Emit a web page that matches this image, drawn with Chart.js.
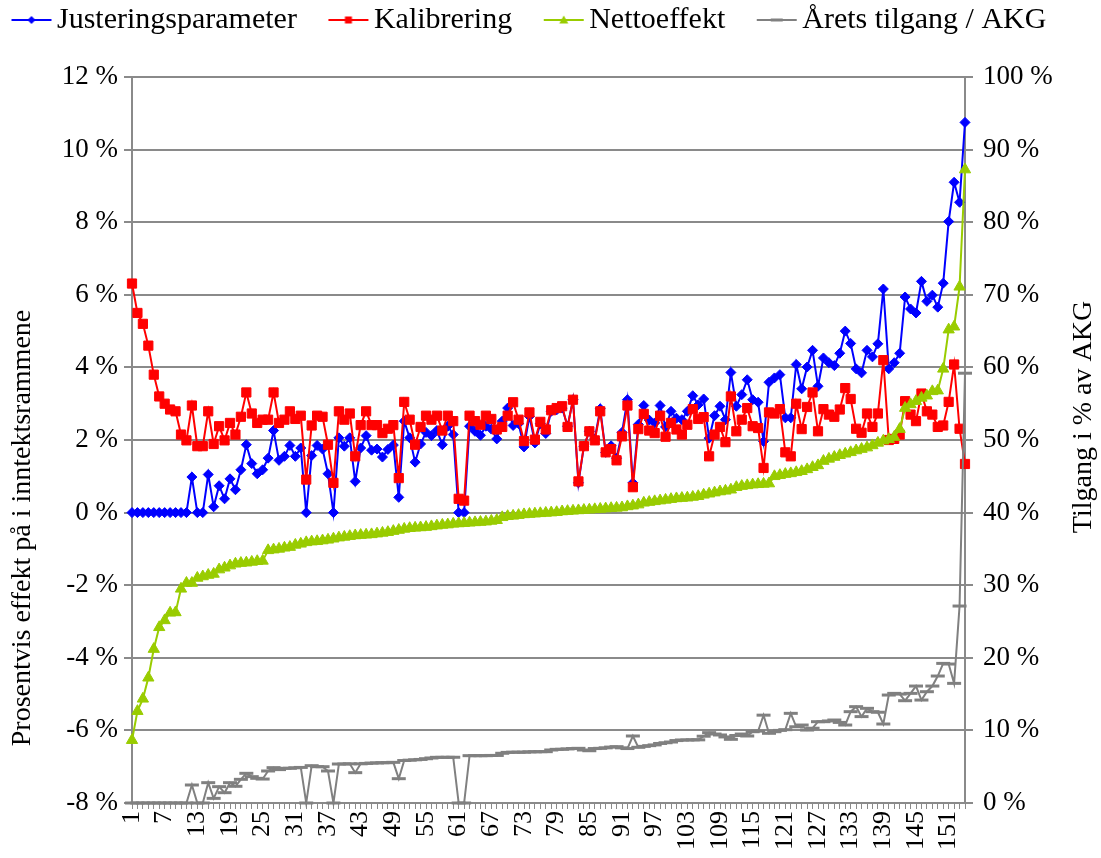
<!DOCTYPE html>
<html>
<head>
<meta charset="utf-8">
<script src="https://cdn.jsdelivr.net/npm/chart.js@4.4.0/dist/chart.umd.min.js"></script>
<style>
  html, body { margin: 0; padding: 0; background: #fff; }
  canvas { display: block; }
</style>
</head>
<body>
<canvas id="chart" width="1101" height="858"></canvas>
<script>
// ---- data ----
const justering = [
  0, 0, 0, 0, 0, 0, 0, 0, 0, 0,
  0, 0.98, 0, 0, 1.05, 0.16, 0.74, 0.38, 0.93, 0.63,
  1.18, 1.87, 1.35, 1.07, 1.18, 1.50, 2.26, 1.44, 1.55, 1.85,
  1.55, 1.78, 0, 1.57, 1.85, 1.75, 1.07, 0, 2.06, 1.83,
  2.06, 0.86, 1.78, 2.12, 1.72, 1.75, 1.53, 1.74, 1.86, 0.42,
  2.52, 2.06, 1.39, 1.89, 2.21, 2.12, 2.26, 1.87, 2.38, 2.15,
  0, 0, 2.38, 2.24, 2.13, 2.38, 2.30, 2.03, 2.52, 2.88,
  2.40, 2.45, 1.81, 2.65, 1.92, 2.45, 2.18, 2.79, 2.83, 2.88,
  2.38, 3.11, 0.82, 1.83, 2.24, 2.03, 2.86, 1.66, 1.84, 1.50,
  2.21, 3.11, 0.82, 2.43, 2.95, 2.55, 2.47, 2.95, 2.36, 2.79,
  2.60, 2.56, 2.79, 3.22, 2.97, 3.13, 2.05, 2.67, 2.93, 2.56,
  3.86, 2.93, 3.25, 3.66, 3.11, 3.04, 1.96, 3.59, 3.71, 3.80,
  2.61, 2.61, 4.08, 3.41, 4.01, 4.47, 3.48, 4.26, 4.13, 4.05,
  4.39, 5.00, 4.66, 3.96, 3.85, 4.47, 4.29, 4.65, 6.16, 3.96,
  4.13, 4.39, 5.94, 5.61, 5.50, 6.37, 5.82, 5.99, 5.66, 6.32,
  8.02, 9.10, 8.55, 10.75
];

const kalibrering = [
  6.31, 5.50, 5.20, 4.60, 3.80, 3.20, 3.00, 2.84, 2.79, 2.15,
  1.99, 2.95, 1.83, 1.83, 2.79, 1.89, 2.38, 1.99, 2.47, 2.15,
  2.64, 3.31, 2.73, 2.47, 2.56, 2.56, 3.31, 2.47, 2.56, 2.79,
  2.58, 2.67, 0.91, 2.40, 2.67, 2.64, 1.87, 0.82, 2.79, 2.56,
  2.73, 1.55, 2.41, 2.79, 2.41, 2.41, 2.19, 2.31, 2.41, 0.95,
  3.05, 2.56, 1.87, 2.36, 2.67, 2.56, 2.67, 2.26, 2.67, 2.52,
  0.38, 0.33, 2.67, 2.52, 2.42, 2.67, 2.58, 2.29, 2.36, 2.67,
  3.04, 2.56, 1.97, 2.76, 2.01, 2.50, 2.29, 2.82, 2.88, 2.93,
  2.36, 3.11, 0.86, 1.83, 2.24, 1.99, 2.79, 1.66, 1.75, 1.44,
  2.10, 2.95, 0.70, 2.30, 2.72, 2.26, 2.19, 2.67, 2.09, 2.47,
  2.29, 2.15, 2.42, 2.85, 2.58, 2.63, 1.55, 2.15, 2.36, 1.94,
  3.20, 2.24, 2.56, 2.88, 2.38, 2.33, 1.23, 2.76, 2.73, 2.85,
  1.66, 1.55, 3.00, 2.30, 2.91, 3.31, 2.24, 2.85, 2.70, 2.64,
  2.84, 3.43, 3.13, 2.31, 2.20, 2.73, 2.36, 2.73, 4.20, 2.00,
  2.03, 2.15, 3.07, 2.70, 2.52, 3.28, 2.79, 2.70, 2.36, 2.40,
  3.05, 4.08, 2.31, 1.34
];

const nettoeffekt = [
  -6.27, -5.47, -5.13, -4.55, -3.76, -3.16, -2.97, -2.76, -2.75, -2.10,
  -1.94, -1.94, -1.80, -1.76, -1.72, -1.69, -1.57, -1.52, -1.46, -1.41,
  -1.39, -1.38, -1.36, -1.34, -1.33, -1.04, -1.02, -1.00, -0.97, -0.95,
  -0.89, -0.86, -0.82, -0.80, -0.79, -0.77, -0.75, -0.72, -0.69, -0.67,
  -0.65, -0.63, -0.62, -0.61, -0.60, -0.58, -0.56, -0.54, -0.51, -0.48,
  -0.45, -0.43, -0.42, -0.41, -0.40, -0.38, -0.36, -0.34, -0.33, -0.31,
  -0.30, -0.29, -0.28, -0.27, -0.26, -0.25, -0.23, -0.21, -0.13, -0.10,
  -0.09, -0.07, -0.05, -0.04, -0.03, -0.02, -0.01, 0.00, 0.01, 0.03,
  0.04, 0.05, 0.06, 0.07, 0.08, 0.09, 0.10, 0.11, 0.12, 0.13,
  0.14, 0.17, 0.19, 0.22, 0.27, 0.29, 0.31, 0.33, 0.35, 0.37,
  0.39, 0.40, 0.41, 0.43, 0.45, 0.49, 0.52, 0.55, 0.58, 0.60,
  0.63, 0.70, 0.73, 0.75, 0.77, 0.78, 0.79, 0.80, 1.00, 1.03,
  1.06, 1.08, 1.11, 1.14, 1.19, 1.25, 1.30, 1.42, 1.48, 1.53,
  1.58, 1.62, 1.66, 1.71, 1.75, 1.79, 1.85, 1.92, 1.98, 2.02,
  2.08, 2.30, 2.88, 2.98, 3.07, 3.16, 3.22, 3.34, 3.36, 3.96,
  5.04, 5.12, 6.22, 9.45
];

const tilgang = [
  0, 0, 0, 0, 0, 0, 0, 0, 0, 0,
  0, 2.48, 0, 0, 2.80, 0.64, 2.25, 1.42, 2.80, 2.30,
  3.26, 4.09, 3.63, 3.40, 3.30, 4.41, 4.87, 4.60, 4.78, 4.78,
  4.85, 4.90, 0, 5.14, 5.00, 5.00, 4.41, 0, 5.37, 5.37,
  5.40, 4.18, 5.40, 5.45, 5.50, 5.52, 5.55, 5.55, 5.60, 3.35,
  5.85, 5.90, 5.95, 6.00, 6.10, 6.20, 6.29, 6.29, 6.29, 6.30,
  0, 0, 6.52, 6.52, 6.52, 6.52, 6.55, 6.55, 6.85, 6.97,
  7.00, 7.00, 7.00, 7.05, 7.05, 7.07, 7.07, 7.30, 7.39, 7.40,
  7.45, 7.50, 7.53, 7.30, 7.20, 7.50, 7.53, 7.60, 7.70, 7.76,
  7.60, 7.50, 9.23, 7.67, 7.80, 7.90, 8.00, 8.20, 8.30, 8.40,
  8.60, 8.68, 8.68, 8.70, 8.70, 9.20, 9.69, 9.50, 9.37, 9.10,
  8.77, 9.30, 9.50, 9.23, 9.82, 9.90, 12.10, 9.60, 9.82, 10.00,
  10.10, 12.35, 10.50, 10.74, 10.05, 10.30, 11.20, 11.20, 11.30, 11.43,
  11.10, 10.74, 12.58, 13.27, 11.90, 13.04, 12.58, 12.50, 10.88, 14.87,
  15.10, 15.00, 14.09, 15.10, 16.11, 14.18, 15.33, 16.11, 17.49, 19.23,
  19.14, 16.48, 27.13, 59.20
];

const seriesNames = ['Justeringsparameter', 'Kalibrering', 'Nettoeffekt', '\u00c5rets tilgang / AKG'];
const leftTitle = 'Prosentvis effekt p\u00e5 i inntektsrammene';
const rightTitle = 'Tilgang i % av AKG';
const leftRange = [-8, 12, 2];   // min, max, step
const rightRange = [0, 100, 10];
const labelEvery = 6;            // 1, 7, 13, ...

const categories = justering.map((_, i) => String(i + 1));

// ---- look ----
const FONT = "'Liberation Serif', 'Times New Roman', serif";
const FS = 27;
const LEGEND_FS = 30;
const LEGEND_GAP = 25;
const GRID = '#8a8a8a';
Chart.defaults.font.family = FONT;
Chart.defaults.font.size = FS;
Chart.defaults.color = '#000';

// little line+marker pictures for the legend, like Excel draws them
// (72px wide, line from 24 to 64, marker in the middle)
function legendIcon(color, style, r, bw) {
  const c = document.createElement('canvas');
  c.width = 72; c.height = 18;
  const g = c.getContext('2d');
  g.strokeStyle = color; g.fillStyle = color; g.lineWidth = 2;
  g.beginPath(); g.moveTo(24, 9); g.lineTo(64, 9); g.stroke();
  const x = 44, y = 9;
  g.beginPath();
  if (style === 'rectRot') {
    g.moveTo(x - r, y); g.lineTo(x, y - r); g.lineTo(x + r, y); g.lineTo(x, y + r); g.closePath(); g.fill();
  } else if (style === 'rect') {
    g.fillRect(x - r, y - r, 2 * r, 2 * r);
  } else if (style === 'triangle') {
    g.moveTo(x, y - r); g.lineTo(x + r, y + r * 0.8); g.lineTo(x - r, y + r * 0.8); g.closePath(); g.fill();
  } else {
    g.lineWidth = bw; g.moveTo(x - r, y); g.lineTo(x + r, y); g.stroke();
  }
  return c;
}

const styles = [
  { color: '#0000ff', point: 'rectRot', radius: 5, pbw: 1, order: 4, axis: 'y', data: justering, icon: legendIcon('#0000ff', 'rectRot', 4) },
  { color: '#ff0000', point: 'rect', radius: 6.5, pbw: 1, order: 3, axis: 'y', data: kalibrering, icon: legendIcon('#ff0000', 'rect', 3.5) },
  { color: '#99cc00', point: 'triangle', radius: 6.5, pbw: 1, order: 2, axis: 'y', data: nettoeffekt, icon: legendIcon('#99cc00', 'triangle', 4.5) },
  { color: '#808080', point: 'line', radius: 7, pbw: 3, order: 1, axis: 'y1', data: tilgang, icon: legendIcon('#808080', 'line', 6, 3) }
];

const datasets = styles.map((s, i) => ({
  label: seriesNames[i],
  data: s.data,
  yAxisID: s.axis,
  order: s.order,
  borderColor: s.color,
  backgroundColor: s.color,
  borderWidth: 2,
  pointStyle: s.point,
  pointRadius: s.radius,
  pointBorderWidth: s.pbw,
  pointBackgroundColor: s.color,
  pointBorderColor: s.color,
  tension: 0,
  clip: 10
}));

// legend band: fixed height so the plot starts where Excel's does,
// and drawn a bit up/left because the item gap also pads the top
const legendBand = {
  id: 'legendBand',
  beforeInit(chart) {
    const lg = chart.legend;
    const fit = lg.fit;
    lg.fit = function () { fit.call(this); this.height = 77; };
    const draw = lg.draw;
    lg.draw = function () {
      const ctx = this.ctx;
      ctx.save();
      ctx.translate(5 - LEGEND_GAP, 5 - LEGEND_GAP);
      draw.call(this);
      ctx.restore();
    };
  }
};

// axis titles, both rotated to read bottom-to-top as in the original
const axisTitles = {
  id: 'axisTitles',
  afterDraw(chart) {
    const ctx = chart.ctx;
    ctx.save();
    ctx.fillStyle = '#000';
    ctx.font = '28px ' + FONT;
    ctx.textAlign = 'center';
    ctx.textBaseline = 'middle';
    ctx.save();
    ctx.translate(23, 528);
    ctx.rotate(-Math.PI / 2);
    ctx.fillText(leftTitle, 0, 0);
    ctx.restore();
    ctx.translate(1084, 417);
    ctx.rotate(-Math.PI / 2);
    ctx.fillText(rightTitle, 0, 0);
    ctx.restore();
  }
};

new Chart(document.getElementById('chart'), {
  type: 'line',
  data: { labels: categories, datasets: datasets },
  options: {
    responsive: false,
    animation: false,
    devicePixelRatio: 1,
    layout: { padding: 0 },
    plugins: {
      tooltip: { enabled: false },
      legend: {
        position: 'top',
        align: 'start',
        labels: {
          usePointStyle: true,
          pointStyleWidth: 37,
          padding: LEGEND_GAP,
          font: { size: LEGEND_FS },
          generateLabels(chart) {
            return chart.data.datasets.map((d, i) => ({
              text: d.label,
              datasetIndex: i,
              pointStyle: styles[i].icon,
              fillStyle: d.borderColor,
              strokeStyle: d.borderColor,
              lineWidth: 0,
              hidden: false
            }));
          }
        }
      }
    },
    scales: {
      x: {
        type: 'category',
        offset: false,
        afterFit: (s) => { s.height = 55; },
        grid: { drawOnChartArea: false, drawTicks: true, tickLength: 6, color: GRID, lineWidth: 1 },
        border: { display: true, color: GRID, width: 2 },
        ticks: {
          autoSkip: false,
          maxRotation: 90,
          minRotation: 90,
          padding: 2,
          font: { size: 26 },
          callback(val, idx) { return idx % labelEvery === 0 ? this.getLabelForValue(val) : ''; }
        }
      },
      y: {
        position: 'left',
        min: leftRange[0], max: leftRange[1],
        afterFit: (s) => { s.width = 132; },
        grid: { drawOnChartArea: true, drawTicks: true, tickLength: 8, color: GRID, lineWidth: 2 },
        border: { display: true, color: GRID, width: 2 },
        ticks: { stepSize: leftRange[2], padding: 6, callback: (v) => v + ' %' }
      },
      y1: {
        position: 'right',
        min: rightRange[0], max: rightRange[1],
        afterFit: (s) => { s.width = 136; },
        grid: { drawOnChartArea: false, drawTicks: true, tickLength: 8, color: GRID, lineWidth: 2 },
        border: { display: true, color: GRID, width: 2 },
        ticks: { stepSize: rightRange[2], padding: 10, callback: (v) => v + ' %' }
      }
    }
  },
  plugins: [legendBand, axisTitles]
});
</script>
</body>
</html>
